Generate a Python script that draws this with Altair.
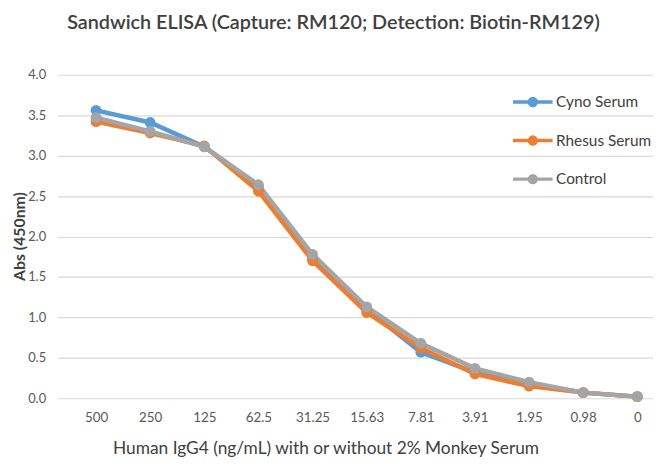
import altair as alt
import pandas as pd

concentrations = ["500", "250", "125", "62.5", "31.25", "15.63", "7.81", "3.91", "1.95", "0.98", "0"]
cyno = [3.56, 3.41, 3.11, 2.62, 1.72, 1.10, 0.57, 0.32, 0.18, 0.07, 0.02]
rhesus = [3.42, 3.28, 3.12, 2.56, 1.70, 1.06, 0.62, 0.30, 0.15, 0.07, 0.02]
control = [3.47, 3.30, 3.11, 2.64, 1.78, 1.13, 0.68, 0.37, 0.20, 0.07, 0.02]
series_names = ["Cyno Serum", "Rhesus Serum", "Control"]
series_colors = ["#5B9BD5", "#ED7D31", "#A5A5A5"]

rows = []
for name, vals in zip(series_names, [cyno, rhesus, control]):
    for i, (c, v) in enumerate(zip(concentrations, vals)):
        rows.append({"idx": i, "conc": c, "abs": v, "series": name,
                     "order": series_names.index(name)})
df = pd.DataFrame(rows)

label_expr = "[" + ",".join(f"'{c}'" for c in concentrations) + "][datum.value]"

FONT = "Lato"
legend_symbol = ("M -1.6 0 L 1.6 0 M -0.28 0 A 0.28 0.28 0 1 1 0.28 0 "
                 "A 0.28 0.28 0 1 1 -0.28 0 Z")

color = alt.Color(
    "series:N",
    scale=alt.Scale(domain=series_names, range=series_colors),
    legend=alt.Legend(
        title=None, orient="none", legendX=466, legendY=13,
        symbolType=legend_symbol, symbolSize=625, symbolStrokeWidth=3.5,
        labelFont=FONT, labelFontSize=15.5, labelColor="#404040",
        rowPadding=14, labelOffset=9,
    ),
)

x = alt.X(
    "idx:Q",
    scale=alt.Scale(domain=[-0.713, 10.29], nice=False, zero=False),
    axis=alt.Axis(
        values=list(range(len(concentrations))), labelExpr=label_expr,
        grid=False, ticks=False, domain=False,
        labelFont=FONT, labelFontSize=13.5, labelColor="#595959", labelPadding=12,
        title="Human IgG4 (ng/mL) with or without 2% Monkey Serum",
        titleFont=FONT, titleFontSize=17.5, titleFontWeight="normal",
        titleColor="#404040", titleX=271, titleY=51, titleAlign="center",
        titleBaseline="middle",
    ),
)
y = alt.Y(
    "abs:Q",
    scale=alt.Scale(domain=[0, 4], nice=False),
    axis=alt.Axis(
        values=[0, 0.5, 1, 1.5, 2, 2.5, 3, 3.5, 4], format=".1f",
        grid=True, gridColor="#D9D9D9", gridWidth=1.2,
        ticks=False, domain=False,
        labelFont=FONT, labelFontSize=13, labelColor="#595959", labelPadding=12,
        title="Abs (450nm)", titleFont=FONT, titleFontSize=16,
        titleFontWeight="bold", titleColor="#404040",
        titleX=-38, titleY=163, titleAlign="center", titleBaseline="middle",
        titleAngle=270,
    ),
)

base = alt.Chart(df)
lines = base.mark_line(strokeWidth=4.5).encode(x=x, y=y, color=color, order="order:Q",
                                              detail="series:N")
points = base.mark_circle(size=120, opacity=1).encode(x=x, y=y, color=alt.Color("series:N", legend=None,
    scale=alt.Scale(domain=series_names, range=series_colors)))

chart = alt.layer(lines, points).properties(
    width=602, height=327,
    title=alt.Title("Sandwich ELISA (Capture: RM120; Detection: Biotin-RM129)",
                    font=FONT, fontSize=20, fontWeight=600, color="#404040",
                    anchor="middle", offset=36, dx=-22),
    autosize=alt.AutoSizeParams(type="none"),
    padding={"left": 50, "top": 65, "right": 0, "bottom": 68},
).configure_view(stroke=None)

chart.save("out.html", embed_options={"renderer": "svg", "actions": False})
